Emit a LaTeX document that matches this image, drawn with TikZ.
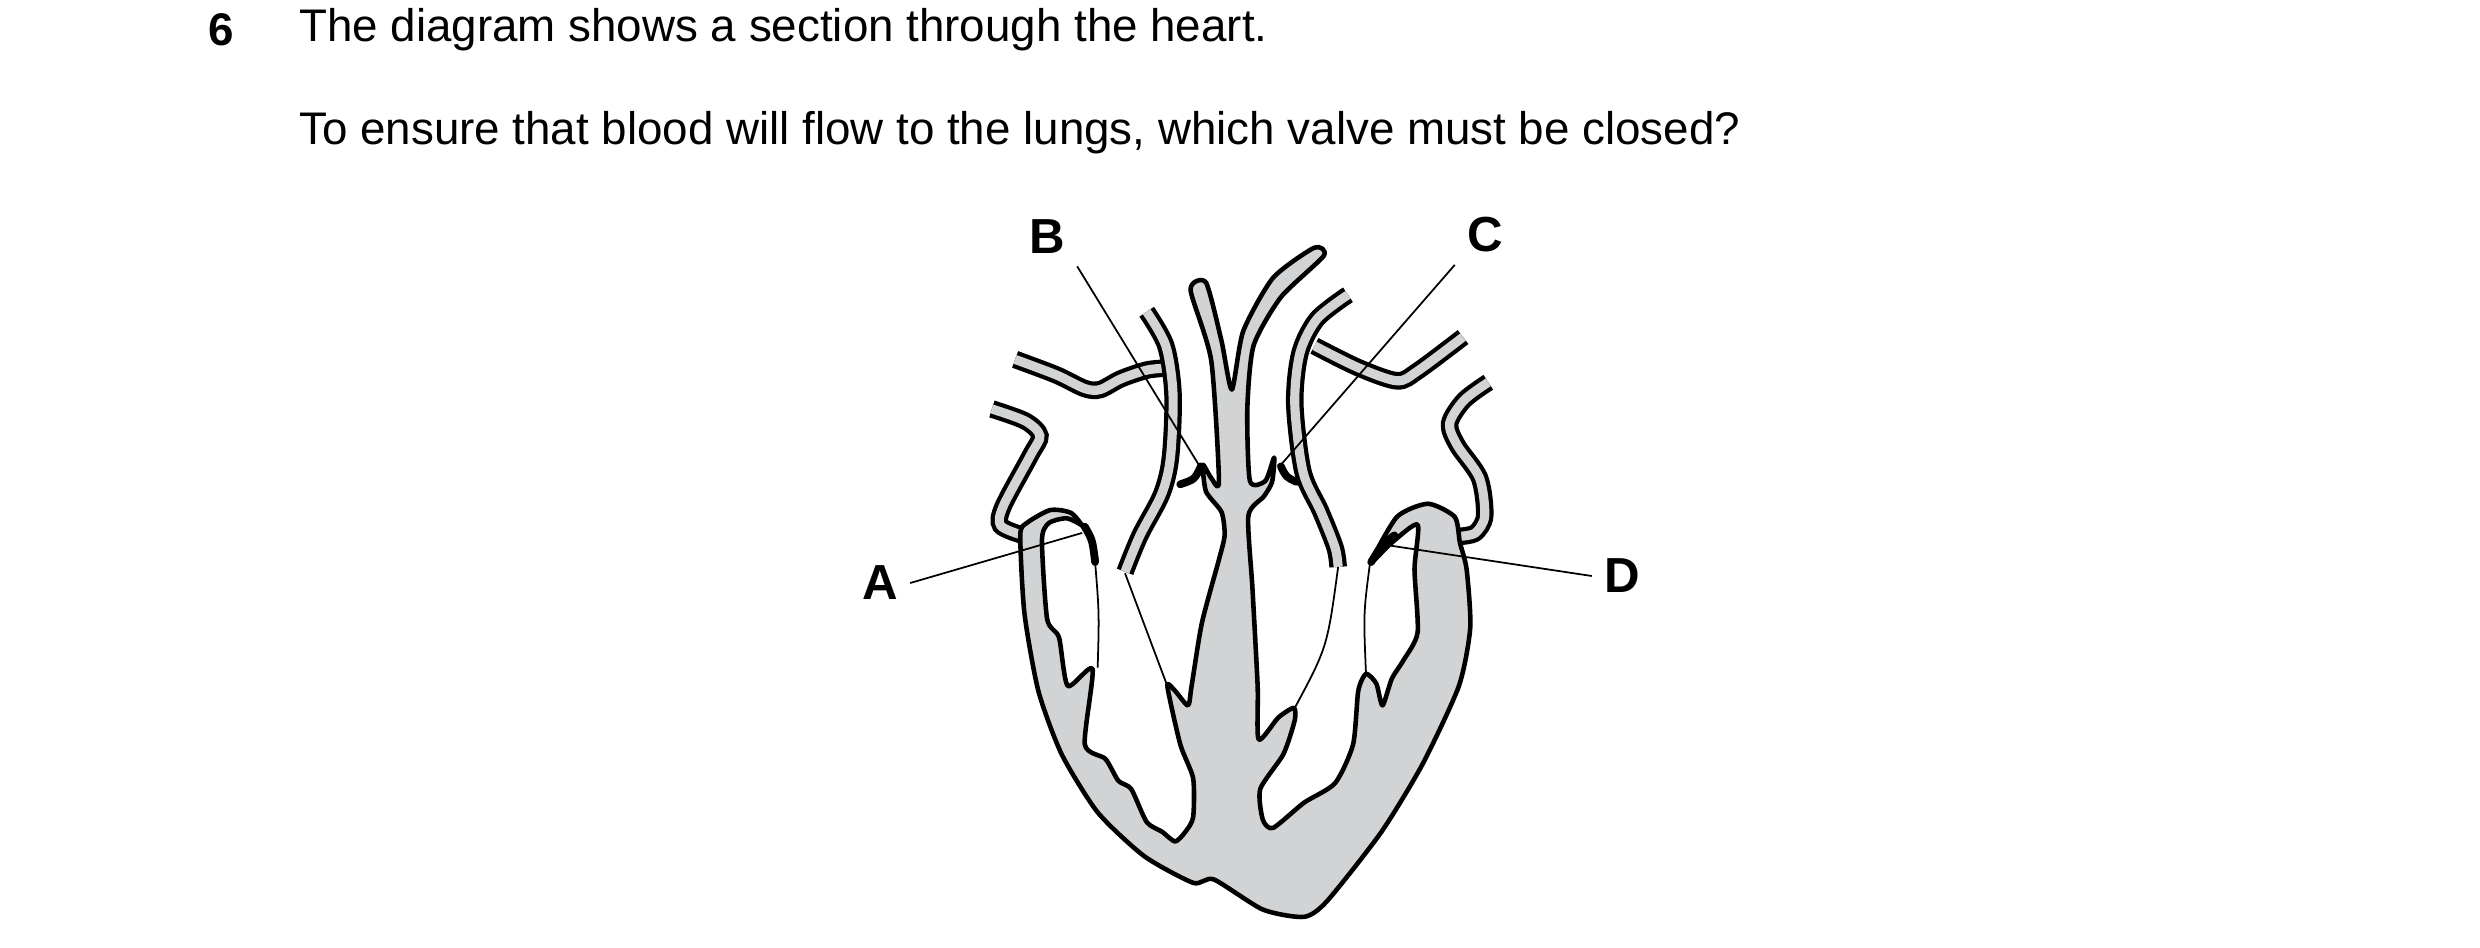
\documentclass[tikz,border=0pt]{standalone}
\usepackage{fontspec}
\setmainfont{Liberation Sans}
\definecolor{heartgray}{RGB}{209,211,212}
\tikzset{
  wall/.style={fill=heartgray, draw=black, line width=1.3pt, line join=round},
  vessel/.style={draw=black, line width=1.2pt, double=heartgray, double distance=2.6pt},
  flap/.style={draw=black, line width=2.2pt, line cap=round},
  chord/.style={draw=black, line width=0.5pt},
  lbl/.style={font=\fontsize{14}{16}\selectfont\bfseries},
  txt/.style={font=\fontsize{13}{15}\selectfont, anchor=west}
}
\begin{document}
\begin{tikzpicture}[x=0.01cm, y=-0.01cm]
    \useasboundingbox (0,0) rectangle (2480,948);
    \node[txt, font=\fontsize{13}{15}\selectfont\bfseries] (num) at (196,30) {6};
    \node[txt] (q1) at (287,30) {The diagram shows a section through the heart.};
    \node[txt] (q2) at (287,133) {To ensure that blood will flow to the lungs, which valve must be closed?};
    \begin{scope}[shift={(850,200)}, xscale=0.516, yscale=0.486]
    % vessels
    \draw[vessel] plot[smooth, tension=0.5] coordinates {(275,430) (340,455) (368,485) (350,525) (297,630) (292,670) (335,690)};
    \draw[vessel] plot[smooth, tension=0.5] coordinates {(320,328) (400,360) (455,388) (485,390) (525,368) (575,350) (612,346)};
    \draw[vessel] plot[smooth, tension=0.5] coordinates {(575,230) (612,300) (626,400) (621,530) (604,605) (562,690) (533,765)};
    \draw[vessel] plot[smooth, tension=0.5] coordinates {(965,195) (905,245) (872,315) (862,420) (878,560) (912,640) (940,715) (946,755)};
    \draw[vessel] plot[smooth, tension=0.5] coordinates {(900,300) (985,345) (1060,372) (1100,352) (1188,282)};
    \draw[vessel] plot[smooth, tension=0.5] coordinates {(1237,375) (1190,412) (1162,460) (1177,505) (1220,572) (1230,650) (1212,685) (1182,692)};
    % body
    \draw[wall] plot[smooth cycle, tension=0.4] coordinates {
      (330,690) (338,850) (365,1010) (410,1140) (480,1260) (570,1350) (665,1405) (705,1398)
      (800,1460) (880,1475) (925,1442) (1030,1300) (1110,1160) (1180,1000) (1202,880) (1195,760) (1182,705)
      (1172,652) (1120,625) (1060,652) (1010,745) (1050,705) (1100,668)
      (1094,760) (1100,890) (1072,948) (1050,985) (1032,1040) (1020,995) (1000,975)
      (985,1010) (975,1120) (940,1200) (880,1240) (820,1292) (800,1275) (795,1212)
      (840,1140) (862,1070) (860,1045) (830,1065) (792,1110) (790,1000) (780,800)
      (772,650) (802,610) (818,580) (822,530) (805,578) (775,578) (770,430)
      (782,300) (835,200) (918,115) (900,98) (820,160) (762,270) (740,390)
      (720,290) (690,170) (660,185) (700,330) (715,578) (700,572) (684,545)
      (690,600) (720,642) (726,690) (715,740) (682,870) (662,1000) (655,1040)
      (630,1010) (615,1000) (640,1120) (665,1190) (665,1270) (650,1300) (630,1320)
      (605,1300) (575,1280) (545,1212) (520,1195) (495,1150) (455,1120) (470,965)
      (422,1000) (405,900) (382,862) (372,700) (385,665) (420,655) (452,672)
      (470,705) (478,745) (462,690) (430,645) (388,638) (342,665)};
    % valves
    \draw[flap] (455,672) .. controls (470,700) .. (475,745);
    \draw[flap] (640,585) .. controls (668,575) .. (680,548);
    \draw[flap] (835,548) .. controls (845,570) .. (865,580);
    \draw[flap] (1010,745) .. controls (1030,710) .. (1055,690);
    \draw[chord] (475,745) .. controls (483,850) .. (480,962);
    \draw[chord] (533,768) -- (615,1000);
    \draw[chord] (946,755) .. controls (925,920) .. (862,1045);
    \draw[chord] (1008,745) .. controls (995,850) .. (1000,975);
    % leaders
    \coordinate (a) at (450,685);
    \coordinate (b) at (680,552);
    \coordinate (c) at (835,545);
    \coordinate (d) at (1040,710);
    \end{scope}
    \node[lbl] (A) at (880,583) {A};
    \node[lbl] (B) at (1047,237) {B};
    \node[lbl] (C) at (1485,235) {C};
    \node[lbl] (D) at (1622,576) {D};
    \draw[chord] (A.east) -- (a);
    \draw[chord] (B.south east) -- (b);
    \draw[chord] (C.south west) -- (c);
    \draw[chord] (D.west) -- (d);
\end{tikzpicture}
\end{document}
